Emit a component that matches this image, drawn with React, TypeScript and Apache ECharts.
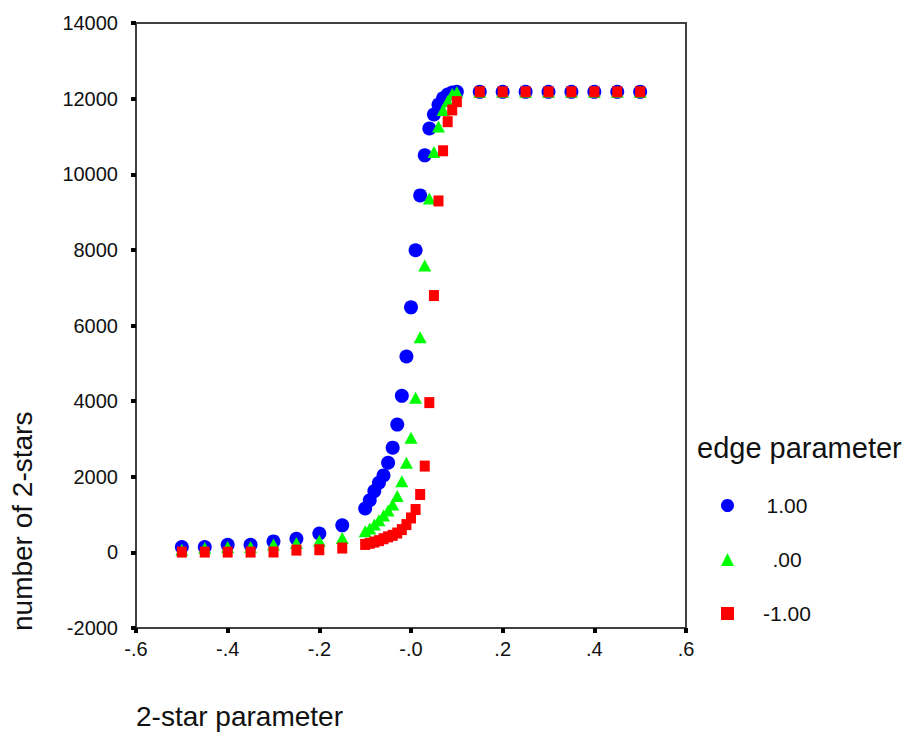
import React, { useEffect, useRef } from "react";
import * as echarts from "echarts";

const xValues = [
  -0.5, -0.45, -0.4, -0.35, -0.3, -0.25, -0.2, -0.15,
  -0.1, -0.09, -0.08, -0.07, -0.06, -0.05, -0.04, -0.03, -0.02, -0.01,
  0, 0.01, 0.02, 0.03, 0.04, 0.05, 0.06, 0.07, 0.08, 0.09, 0.1,
  0.15, 0.2, 0.25, 0.3, 0.35, 0.4, 0.45, 0.5,
];

const edgePos = [
  140, 140, 200, 200, 290, 360, 500, 715,
  1160, 1380, 1620, 1840, 2035, 2370, 2770, 3380, 4140, 5180,
  6480, 7990, 9440, 10500, 11210, 11580, 11840, 12010, 12110, 12160, 12180,
  12180, 12180, 12180, 12180, 12180, 12180, 12180, 12180,
];

const edgeZero = [
  70, 115, 140, 140, 205, 245, 310, 380,
  557, 629, 735, 849, 974, 1106, 1266, 1490, 1880, 2370,
  3030, 4090, 5690, 7590, 9360, 10590, 11260, 11700, 11930, 12120, 12170,
  12180, 12180, 12180, 12180, 12180, 12180, 12180, 12180,
];

const edgeNeg = [
  8, 8, 8, 8, 10, 60, 70, 115,
  210, 240, 273, 310, 360, 410, 450, 512, 602, 735,
  910, 1133, 1531, 2282, 3961, 6792, 9294, 10621, 11390, 11700, 11920,
  12180, 12180, 12180, 12180, 12180, 12180, 12180, 12180,
];

const seriesNames = ["1.00", ".00", "-1.00"];
const xTickLabels = ["-.6", "-.4", "-.2", "-.0", ".2", ".4", ".6"];
const legendTitle = "edge parameter";
const xTitle = "2-star parameter";
const yTitle = "number of 2-stars";

const FONT = "Liberation Sans, Arial, sans-serif";

export default function App() {
  const ref = useRef<HTMLDivElement>(null);
  useEffect(() => {
    document.body.style.margin = "0";
    const chart = echarts.init(ref.current!, null, { renderer: "svg" });
    const pair = (ys: number[]) => xValues.map((x, i) => [x, ys[i]]);
    const option: any = {
      animation: false,
      backgroundColor: "#ffffff",
      grid: {
        left: 136,
        right: 224,
        top: 23,
        bottom: 107,
        show: true,
        borderColor: "#404040",
        borderWidth: 2,
        containLabel: false,
      },
      xAxis: {
        type: "value",
        min: -0.6,
        max: 0.6,
        interval: 0.2,
        splitLine: { show: false },
        axisLine: { onZero: false, lineStyle: { color: "#404040", width: 2 } },
        axisTick: { show: true, length: 5, lineStyle: { color: "#000", width: 4 } },
        axisLabel: {
          margin: 11,
          color: "#111",
          fontFamily: FONT,
          fontSize: 20,
          formatter: (v: number) => xTickLabels[Math.round((v + 0.6) / 0.2)] ?? "",
        },
      },
      yAxis: {
        type: "value",
        min: -2000,
        max: 14000,
        interval: 2000,
        splitLine: { show: false },
        axisLine: { onZero: false, lineStyle: { color: "#404040", width: 2 } },
        axisTick: { show: true, length: 5, lineStyle: { color: "#000", width: 4 } },
        axisLabel: {
          margin: 18,
          color: "#111",
          fontFamily: FONT,
          fontSize: 20,
          formatter: (v: number) => String(v),
        },
      },
      legend: {
        orient: "vertical",
        left: 716,
        top: 490,
        itemWidth: 13,
        itemHeight: 13,
        itemGap: 33,
        data: [
          { name: seriesNames[0], icon: "circle" },
          { name: seriesNames[1], icon: "triangle" },
          { name: seriesNames[2], icon: "rect" },
        ],
        formatter: (n: string) => "{a|" + n + "}",
        textStyle: {
          color: "#111",
          fontFamily: FONT,
          fontSize: 21,
          rich: { a: { width: 96, align: "center", fontSize: 21, fontFamily: FONT, color: "#111" } },
        },
      },
      graphic: [
        {
          type: "text",
          left: 697,
          top: 433,
          style: { text: legendTitle, fontSize: 29, fontFamily: FONT, fill: "#111" },
        },
        {
          type: "text",
          left: 136,
          top: 702,
          style: { text: xTitle, fontSize: 28, fontFamily: FONT, fill: "#111" },
        },
        {
          type: "text",
          x: 8,
          y: 631,
          rotation: Math.PI / 2,
          style: { text: yTitle, fontSize: 28, fontFamily: FONT, fill: "#111", textAlign: "left", textVerticalAlign: "top" },
        },
      ],
      series: [
        {
          name: seriesNames[0],
          type: "scatter",
          symbol: "circle",
          symbolSize: 14,
          itemStyle: { color: "#0000ff", opacity: 1 },
          data: pair(edgePos),
          z: 2,
        },
        {
          name: seriesNames[1],
          type: "scatter",
          symbol: "triangle",
          symbolSize: [13, 12],
          itemStyle: { color: "#00ff00", opacity: 1 },
          data: pair(edgeZero),
          z: 3,
        },
        {
          name: seriesNames[2],
          type: "scatter",
          symbol: "rect",
          symbolSize: [10, 11],
          itemStyle: { color: "#ff0000", opacity: 1 },
          data: pair(edgeNeg),
          z: 4,
        },
      ],
    };
    chart.setOption(option);
    return () => chart.dispose();
  }, []);
  return <div ref={ref} style={{ width: 910, height: 735 }} />;
}
